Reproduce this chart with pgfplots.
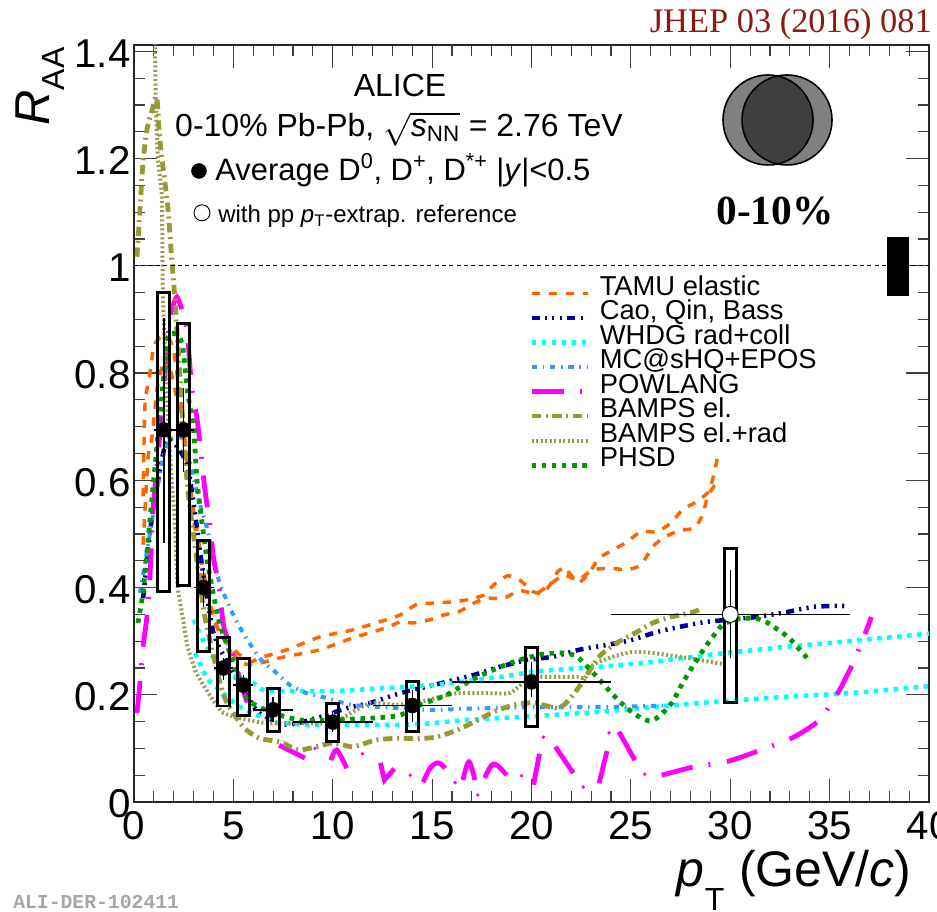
\documentclass[border=0pt]{standalone}
\usepackage{fontspec}
\setmainfont{Liberation Sans}
\newfontfamily\serif{Liberation Serif}
\newfontfamily\mono{Liberation Mono}
\usepackage{pgfplots}
\pgfplotsset{compat=1.18}
\newcommand{\fs}[1]{\fontsize{#1}{#1}\selectfont}
\newcommand{\sysbox}[4]{\addplot[black,line width=2.2pt,line join=miter,forget plot] coordinates {(#1,#3)(#2,#3)(#2,#4)(#1,#4)} -- cycle;}
\definecolor{tamu}{HTML}{FF6600}
\definecolor{cao}{HTML}{000099}
\definecolor{whdg}{HTML}{00FFFF}
\definecolor{mcs}{HTML}{3399FF}
\definecolor{powl}{HTML}{FF00FF}
\definecolor{bamps}{HTML}{999933}
\definecolor{bampr}{HTML}{99994D}
\definecolor{phsd}{HTML}{009900}
\definecolor{jhep}{HTML}{8B1A10}
\tikzset{
 stTamu/.style={tamu,line width=2.6pt,dash pattern=on 6.3pt off 6.5pt},
 stCao/.style={cao,line width=3.4pt,dash pattern=on 6pt off 4pt on 1.6pt off 4pt on 1.6pt off 4pt on 1.6pt off 4pt},
 stWhdg/.style={whdg,line width=3.4pt,dash pattern=on 3.4pt off 4.1pt},
 stMc/.style={mcs,line width=3pt,dash pattern=on 4pt off 4.3pt on 1.2pt off 4.3pt},
 stPow/.style={powl,line width=3.6pt,dash pattern=on 24pt off 12pt on 1.5pt off 12.5pt},
 stBa/.style={bamps,line width=3.6pt,dash pattern=on 7pt off 3.5pt on 1.5pt off 3.5pt},
 stBr/.style={bampr,line width=3pt,dash pattern=on 1.5pt off 1.9pt},
 stPh/.style={phsd,line width=3.6pt,dash pattern=on 3.4pt off 4.2pt},
}
\begin{document}
\begin{tikzpicture}[x=0.75pt,y=0.75pt]
\path[use as bounding box] (0,0) rectangle (937,912);
\begin{axis}[
 at={(100.5pt,82.5pt)},anchor=south west,
 scale only axis,width=596.25pt,height=567.75pt,
 xmin=0,xmax=40,ymin=0,ymax=1.412,
 axis line style={line width=1.2pt,black!85},
 tick style={line width=0.9pt,black!75},
 tick align=inside,
 major tick length=17pt,minor tick length=8.5pt,
 xtick={0,5,10,15,20,25,30,35,40},
 xticklabels={0,5,10,15,20,25,30,35,40},
 ytick={0,0.2,0.4,0.6,0.8,1,1.2,1.4},
 yticklabels={0,0.2,0.4,0.6,0.8,1,1.2,1.4},
 minor x tick num=4,minor y tick num=3,
 xticklabel style={font=\fs{30.2pt},inner sep=0pt,yshift=-7pt},
 yticklabel style={font=\fs{30.2pt},inner sep=0pt,xshift=-2.5pt,yshift=-1.5pt},
 xlabel={\textit{p}\raisebox{-18pt}{\fs{24pt}T}\hspace{11pt}(GeV/\textit{c})},
 xlabel style={at={(axis description cs:0.978,-0.112)},anchor=base east,font=\fs{37.5pt},inner sep=0pt},
 ylabel={\textit{R}\raisebox{-11pt}{\fs{24pt}AA}},
 ylabel style={at={(axis description cs:-0.1057,0.997)},anchor=base east,rotate=0,font=\fs{36.7pt},inner sep=0pt},
 legend style={at={(axis cs:19.88,0.979)},anchor=north west,draw=none,fill=none,inner sep=0pt,outer sep=0pt,
   font=\fs{20.5pt},column sep=0pt,row sep=0pt,
   nodes={inner sep=0pt,text height=13.5pt,text depth=4.9pt}},
 legend cell align=left,
 legend image code/.code={\draw[#1] (0pt,-3pt) -- (42pt,-3pt);\path[draw=none] (42pt,0pt) -- (51.2pt,0pt);},
 every axis plot/.append style={mark=none},
]
\addplot[stTamu,smooth,tension=0.35] coordinates {(0.46,0.57)(0.55,0.74)(0.8,0.80)(1,0.85)(1.3,0.866)(1.7,0.868)(2,0.84)(2.4,0.73)(2.9,0.57)(3.2,0.50)(3.7,0.39)(4.3,0.315)(5.3,0.275)(5.9,0.262)(6.34,0.269)(7.7,0.284)(9.36,0.308)(11.0,0.321)(12.7,0.34)(13.4,0.349)(14.2,0.368)(15.05,0.371)(15.9,0.373)(16.75,0.377)(17.6,0.386)(18.1,0.405)(18.8,0.422)(19.4,0.414)(20.1,0.392)(20.6,0.39)(21.1,0.414)(21.3,0.429)(21.7,0.438)(21.9,0.427)(22.4,0.41)(22.9,0.427)(23.4,0.455)(24.1,0.47)(24.8,0.485)(25.5,0.504)(26.3,0.504)(27,0.52)(27.6,0.545)(28.3,0.56)(28.9,0.578)(29.1,0.60)(29.3,0.632)(29.4,0.655)};
\addlegendentry{TAMU elastic}
\addplot[stTamu,smooth,tension=0.35,forget plot] coordinates {(0.46,0.48)(0.7,0.64)(0.9,0.68)(1.2,0.78)(1.6,0.83)(2,0.78)(2.5,0.68)(2.9,0.55)(3.4,0.44)(3.67,0.373)(4,0.34)(4.6,0.30)(5.3,0.262)(6,0.256)(7.35,0.269)(9.36,0.284)(11.0,0.306)(12.7,0.325)(13.4,0.336)(14.05,0.334)(14.9,0.34)(15.6,0.349)(16.4,0.356)(17.1,0.371)(17.75,0.38)(18.6,0.38)(19.4,0.394)(20.3,0.39)(21.6,0.423)(22.3,0.414)(23.1,0.433)(24,0.436)(24.8,0.433)(25.5,0.442)(26.1,0.476)(26.6,0.492)(27.4,0.506)(28.2,0.511)(28.6,0.535)(28.9,0.573)(29.4,0.6)};
\addplot[stCao,smooth,tension=0.35] coordinates {(0.46,0.38)(0.9,0.53)(1.65,0.675)(2.65,0.632)(3.2,0.504)(3.4,0.446)(4,0.315)(4.7,0.26)(5.5,0.209)(6.3,0.166)(7.7,0.144)(9.4,0.159)(10.7,0.175)(11.9,0.185)(13.4,0.203)(15.05,0.218)(17.1,0.237)(18.4,0.252)(19.8,0.265)(21.1,0.271)(22.4,0.284)(23.8,0.293)(25,0.302)(26.3,0.317)(27.5,0.327)(28.8,0.336)(31.3,0.345)(32.8,0.354)(34.2,0.364)(35.5,0.366)(36,0.364)};
\addlegendentry{Cao, Qin, Bass}
\addplot[stWhdg,smooth,tension=0.35] coordinates {(3,0.34)(3.5,0.30)(4,0.27)(5,0.235)(6,0.222)(6.5,0.209)(8,0.207)(10.2,0.207)(12.4,0.212)(15.05,0.218)(18.4,0.233)(20.1,0.243)(21.8,0.248)(23.4,0.252)(26,0.261)(29.3,0.276)(32.7,0.289)(36,0.3)(40,0.314)};
\addlegendentry{WHDG rad+coll}
\addplot[stWhdg,smooth,tension=0.35,forget plot] coordinates {(3.07,0.278)(3.67,0.231)(4.3,0.209)(5.2,0.18)(6,0.165)(7.2,0.149)(8.7,0.144)(11,0.144)(13.4,0.144)(15.05,0.147)(16.75,0.153)(20.1,0.16)(23.4,0.168)(26,0.177)(29.3,0.187)(32.7,0.196)(36,0.203)(40,0.216)};
\addplot[stMc,smooth,tension=0.35] coordinates {(0.3,0.39)(0.8,0.50)(1.4,0.632)(1.8,0.675)(2.4,0.68)(2.7,0.65)(3.3,0.558)(3.7,0.507)(4.3,0.409)(5.2,0.334)(6.3,0.269)(7.1,0.243)(7.85,0.218)(8.7,0.203)(9.7,0.194)(11,0.181)(13.4,0.175)(15,0.172)(17.6,0.175)(20.1,0.177)(23.4,0.177)(26.8,0.18)};
\addlegendentry{MC@sHQ+EPOS}
\addplot[stPow,smooth,tension=0.3] coordinates {(0.15,0.166)(0.3,0.222)(0.45,0.289)(0.65,0.345)(0.8,0.418)(0.96,0.545)(1.4,0.726)(1.8,0.90)(2.16,0.942)(2.57,0.899)(2.7,0.868)(2.9,0.774)(3.2,0.707)(3.57,0.582)(3.8,0.522)(4,0.455)(4.3,0.396)(4.5,0.33)(5,0.27)(5.7,0.185)(6.2,0.162)};
\addlegendentry{POWLANG}
% the visible strokes of the POWLANG curve where it oscillates
\addplot[powl,line width=3.6pt,forget plot,smooth,tension=0.5] coordinates {(7.3,0.106)(8.6,0.082)};
\addplot[powl,line width=3.6pt,forget plot,smooth,tension=0.5] coordinates {(9.9,0.078)(10.2,0.097)(10.7,0.063)};
\addplot[powl,line width=3.6pt,forget plot] coordinates {(12.4,0.073)(12.6,0.041)(13.1,0.062)};
\addplot[powl,line width=3.6pt,forget plot,smooth,tension=0.6] coordinates {(14.55,0.037)(14.9,0.063)(15.3,0.073)(15.65,0.063)};
\addplot[powl,line width=3.6pt,forget plot,smooth,tension=0.6] coordinates {(16.55,0.041)(16.85,0.075)(17.15,0.041)};
\addplot[powl,line width=3.6pt,forget plot,smooth,tension=0.6] coordinates {(17.65,0.045)(18.1,0.071)(18.75,0.05)};
\addplot[powl,line width=3.6pt,forget plot] coordinates {(20.1,0.032)(20.4,0.09)};
\addplot[powl,line width=3.6pt,forget plot] coordinates {(21.2,0.103)(22.1,0.054)};
\addplot[powl,line width=3.6pt,forget plot] coordinates {(23.4,0.035)(23.8,0.095)};
\addplot[powl,line width=3.6pt,forget plot] coordinates {(24.4,0.131)(25.2,0.078)};
\addplot[only marks,mark=*,mark size=1.1pt,powl,forget plot] coordinates {(9.1,0.10)(11.5,0.09)(13.9,0.05)(16.15,0.036)(17.3,0.013)(19.5,0.049)(20.6,0.121)(22.6,0.028)(23.9,0.129)(25.7,0.052)};
\addplot[stPow,smooth,tension=0.3,forget plot] coordinates {(26.55,0.05)(28.1,0.065)(29.9,0.076)(31.4,0.095)(33.2,0.121)(34.5,0.153)(35.5,0.209)(36.2,0.261)(36.9,0.325)(37.1,0.345)};
\addplot[stBa,smooth,tension=0.35] coordinates {(0.15,1.017)(0.3,1.104)(0.45,1.192)(0.65,1.254)(0.96,1.297)(1.15,1.315)(1.3,1.235)(1.7,1.11)(1.9,1.011)(2.05,0.942)(2.65,0.607)(3,0.498)(3.57,0.345)(4.5,0.2)(5.5,0.14)(6.3,0.119)(7.35,0.112)(8.35,0.097)(10,0.11)(11,0.103)(12.2,0.116)(13.4,0.119)(14.2,0.118)(15.2,0.121)(16.25,0.134)(17.1,0.149)(18.1,0.168)(19.1,0.181)(20.1,0.185)(21.3,0.175)(21.8,0.187)(22.4,0.215)(23.4,0.271)(24.3,0.297)(25.3,0.317)(26.1,0.334)(27,0.345)(28.1,0.354)(28.6,0.361)};
\addlegendentry{BAMPS el.}
\addplot[stBr,smooth,tension=0.3] coordinates {(1.06,1.45)(1.06,1.412)(1.1,1.30)(1.2,1.2)(1.4,1.129)(1.45,0.955)(1.6,0.8)(1.8,0.651)(2.05,0.526)(2.2,0.401)(2.45,0.345)(2.7,0.289)(3.15,0.24)(3.8,0.2)(4.5,0.166)(5.7,0.153)(6.7,0.147)(8,0.147)(10,0.147)(10.9,0.166)(11.9,0.185)(13.2,0.181)(14.4,0.187)(15.4,0.196)(16.25,0.203)(17.75,0.203)(18.9,0.203)(19.6,0.222)(20.4,0.233)(22.3,0.233)(22.7,0.231)(23.1,0.256)(24.1,0.271)(25.1,0.28)(26.1,0.278)(27.6,0.27)(29.7,0.257)};
\addlegendentry{BAMPS el.+rad}
\addplot[stPh,smooth,tension=0.35] coordinates {(0.2,0.334)(0.45,0.39)(0.65,0.465)(0.96,0.588)(1.15,0.662)(1.4,0.756)(1.7,0.868)(2.2,0.871)(2.45,0.849)(2.7,0.763)(3,0.694)(3.2,0.588)(3.7,0.446)(4.3,0.334)(5.1,0.252)(5.75,0.19)(7,0.166)(8.35,0.153)(10,0.153)(12.2,0.157)(13.4,0.162)(14.4,0.181)(15.75,0.2)(17,0.228)(18.3,0.25)(19.4,0.265)(20.6,0.276)(21.6,0.278)(22.3,0.271)(23.3,0.233)(24.1,0.2)(24.8,0.175)(25.5,0.157)(26,0.151)(26.5,0.162)(27.1,0.187)(27.6,0.222)(28.1,0.252)(28.7,0.287)(29,0.302)(29.6,0.33)(30.3,0.341)(31.2,0.343)(31.8,0.336)(32.9,0.308)(33.5,0.284)(33.9,0.267)};
\addlegendentry{PHSD}
% unity line and global uncertainty
\addplot[black,line width=0.7pt,dash pattern=on 3pt off 2.5pt,forget plot] coordinates {(0,1)(40,1)};
\addplot[black,fill=black,line width=0.5pt,forget plot] coordinates {(37.9,0.945)(38.95,0.945)(38.95,1.054)(37.9,1.054)} -- cycle;
% systematic boxes
\sysbox{1.2}{1.8}{0.392}{0.95}
\sysbox{2.2}{2.8}{0.403}{0.893}
\sysbox{3.2}{3.8}{0.28}{0.487}
\sysbox{4.2}{4.8}{0.179}{0.306}
\sysbox{5.2}{5.8}{0.162}{0.267}
\sysbox{6.7}{7.3}{0.131}{0.211}
\sysbox{9.7}{10.3}{0.112}{0.183}
\sysbox{13.7}{14.3}{0.132}{0.224}
\sysbox{19.7}{20.3}{0.14}{0.289}
\sysbox{29.7}{30.3}{0.185}{0.472}
% measured points
\addplot[only marks,mark=*,mark size=5.6pt,black,forget plot,
  error bars/.cd,x dir=both,y dir=both,x explicit,y explicit,error mark=none,error bar style={black,line width=1.1pt}]
 coordinates {
 (1.5,0.694) += (0.5,0.209) -= (0.5,0.211)
 (2.5,0.694) += (0.5,0.078) -= (0.5,0.078)
 (3.5,0.40) += (0.5,0.033) -= (0.5,0.036)
 (4.5,0.25) += (0.5,0.019) -= (0.5,0.022)
 (5.5,0.218) += (0.5,0.019) -= (0.5,0.018)
 (7,0.172) += (1,0.023) -= (1,0.022)
 (10,0.149) += (2,0.021) -= (2,0.019)
 (14,0.18) += (2,0.029) -= (2,0.031)
 (20,0.224) += (4,0.037) -= (4,0.028)
 };
\addplot[only marks,mark=*,mark size=6pt,mark options={fill=white,draw=black,line width=0.7pt},forget plot,
  error bars/.cd,x dir=both,y dir=both,x explicit,y explicit,error mark=none,error bar style={black,line width=1.1pt}]
 coordinates {(30,0.35) += (6,0.083) -= (6,0.081)};
% key markers
\addplot[only marks,mark=*,mark size=5.6pt,black,forget plot] coordinates {(3.27,1.177)};
\addplot[only marks,mark=*,mark size=6pt,mark options={fill=white,draw=black,line width=0.7pt},forget plot] coordinates {(3.42,1.099)};
\end{axis}
% texts
\node[anchor=base,inner sep=0pt,font=\fs{24pt}] at (400,815) {ALICE};
\node[anchor=base,inner sep=0pt,font=\fs{24pt}] at (399,775) {0-10\% Pb-Pb, $\sqrt{\mbox{\textit{s}\textsubscript{NN}}}$ = 2.76 TeV};
\node[anchor=base west,inner sep=0pt,font=\fs{23.2pt}] at (215,731) {Average D\textsuperscript{0}, D\textsuperscript{+}, D\textsuperscript{*+} |\textit{y}|<0.5};
\node[anchor=base west,inner sep=0pt,font=\fs{18pt}] at (218,689) {with pp \textit{p}\textsubscript{T}-extrap. reference};
\node[anchor=base east,inner sep=0pt,font=\fs{25.8pt}\serif,text=jhep] at (932,879) {JHEP 03 (2016) 081};
\node[anchor=base,inner sep=0pt,font=\fs{31pt}\serif\bfseries] at (775,687) {0-10\%};
\node[anchor=base west,inner sep=0pt,font=\fs{14.8pt}\mono\bfseries,text=black!35] at (13,3) {ALI-DER-102411};
% centrality sketch
\fill[black!50] (768,792) circle (45);
\fill[black!50] (787,792) circle (45);
\begin{scope}
\clip (768,792) circle (45);
\fill[black!75] (787,792) circle (45);
\end{scope}
\draw[black,line width=1.2pt] (768,792) circle (45);
\draw[black,line width=1.2pt] (787,792) circle (45);
\end{tikzpicture}
\end{document}
